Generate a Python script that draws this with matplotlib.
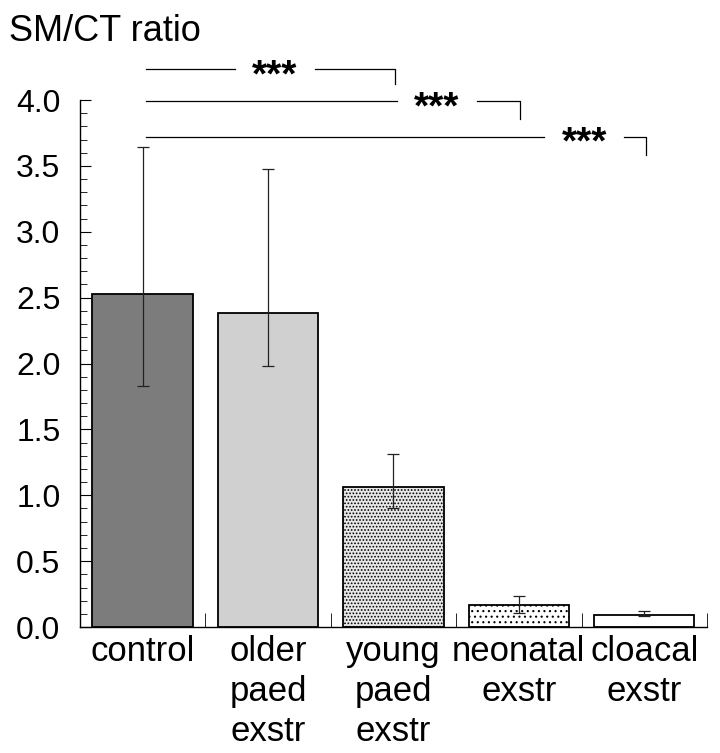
import numpy as np
import matplotlib.pyplot as plt
from matplotlib.ticker import FixedLocator
from matplotlib.transforms import offset_copy

plt.rcParams['font.family'] = ['Liberation Sans', 'DejaVu Sans']
plt.rcParams['hatch.linewidth'] = 0.8

# values
groups = ['control', 'older\npaed\nexstr', 'young\npaed\nexstr', 'neonatal\nexstr', 'cloacal\nexstr']
means = [2.53, 2.38, 1.065, 0.17, 0.095]
err_low = [1.83, 1.98, 0.90, 0.11, 0.08]
err_high = [3.64, 3.48, 1.31, 0.235, 0.12]

# significance brackets: (from group, to group, line level, drop level)
brackets = [(0, 2, 4.235, 4.12), (0, 3, 3.99, 3.86), (0, 4, 3.72, 3.58)]
star_x = [1.055, 2.347, 3.52]
gap = 0.32

face = ['#7c7c7c', '#d0d0d0', '#e8e8e8', 'white', 'white']
hatches = [None, None, '.....', '...', None]

fig = plt.figure(figsize=(7.2, 7.53), dpi=100)
ax = fig.add_axes([0.111, 0.1673, 0.871, 0.7523])

x = np.arange(len(groups))
yerr = [np.array(means) - np.array(err_low), np.array(err_high) - np.array(means)]
bars = ax.bar(x, means, width=0.8, color=face, edgecolor='black', linewidth=1.3)
for b, h in zip(bars, hatches):
    if h:
        b.set_hatch(h)
ax.errorbar(x, means, yerr=yerr, fmt='none', ecolor='#222222', elinewidth=0.9,
            capsize=4, capthick=0.9)

# brackets, with a gap left in the line for the stars
star_trans = offset_copy(ax.transData, fig=fig, x=0, y=-5, units='points')
for (a, b, lvl, drop), sx in zip(brackets, star_x):
    ax.plot([a + 0.03, sx - gap], [lvl, lvl], color='black', lw=0.9, clip_on=False)
    ax.plot([sx + gap, b + 0.01, b + 0.01], [lvl, lvl, drop], color='black', lw=0.9,
            clip_on=False)
    ax.text(sx, lvl, '***', ha='center', va='center', fontsize=28, fontweight='bold',
            transform=star_trans)

ax.set_xlim(-0.5, 4.5)
ax.set_ylim(0, 4.3)
ax.spines['top'].set_visible(False)
ax.spines['right'].set_visible(False)
ax.spines['left'].set_bounds(0, 4.0)
ax.spines['left'].set_linewidth(1.0)
ax.spines['bottom'].set_linewidth(1.0)

yt = np.arange(0, 4.01, 0.5)
ax.yaxis.set_major_locator(FixedLocator(yt))
ax.yaxis.set_minor_locator(FixedLocator(np.round(np.arange(0, 4.01, 0.1), 2)))
ax.set_yticklabels([f'{v:.1f}' for v in yt])
ax.tick_params(axis='y', which='major', direction='in', length=8, labelsize=23, pad=14)
ax.tick_params(axis='y', which='minor', direction='in', length=5)

ax.set_xticks(x)
ax.set_xticklabels(groups, fontsize=25, linespacing=1.26)
ax.set_xticks(np.arange(0.5, 4.6, 1.0), minor=True)
ax.tick_params(axis='x', which='major', length=0, pad=6)
ax.tick_params(axis='x', which='minor', direction='in', length=10)

fig.text(0.012, 0.9455, 'SM/CT ratio', fontsize=26, ha='left', va='baseline')

plt.savefig('out.png', dpi=100)
